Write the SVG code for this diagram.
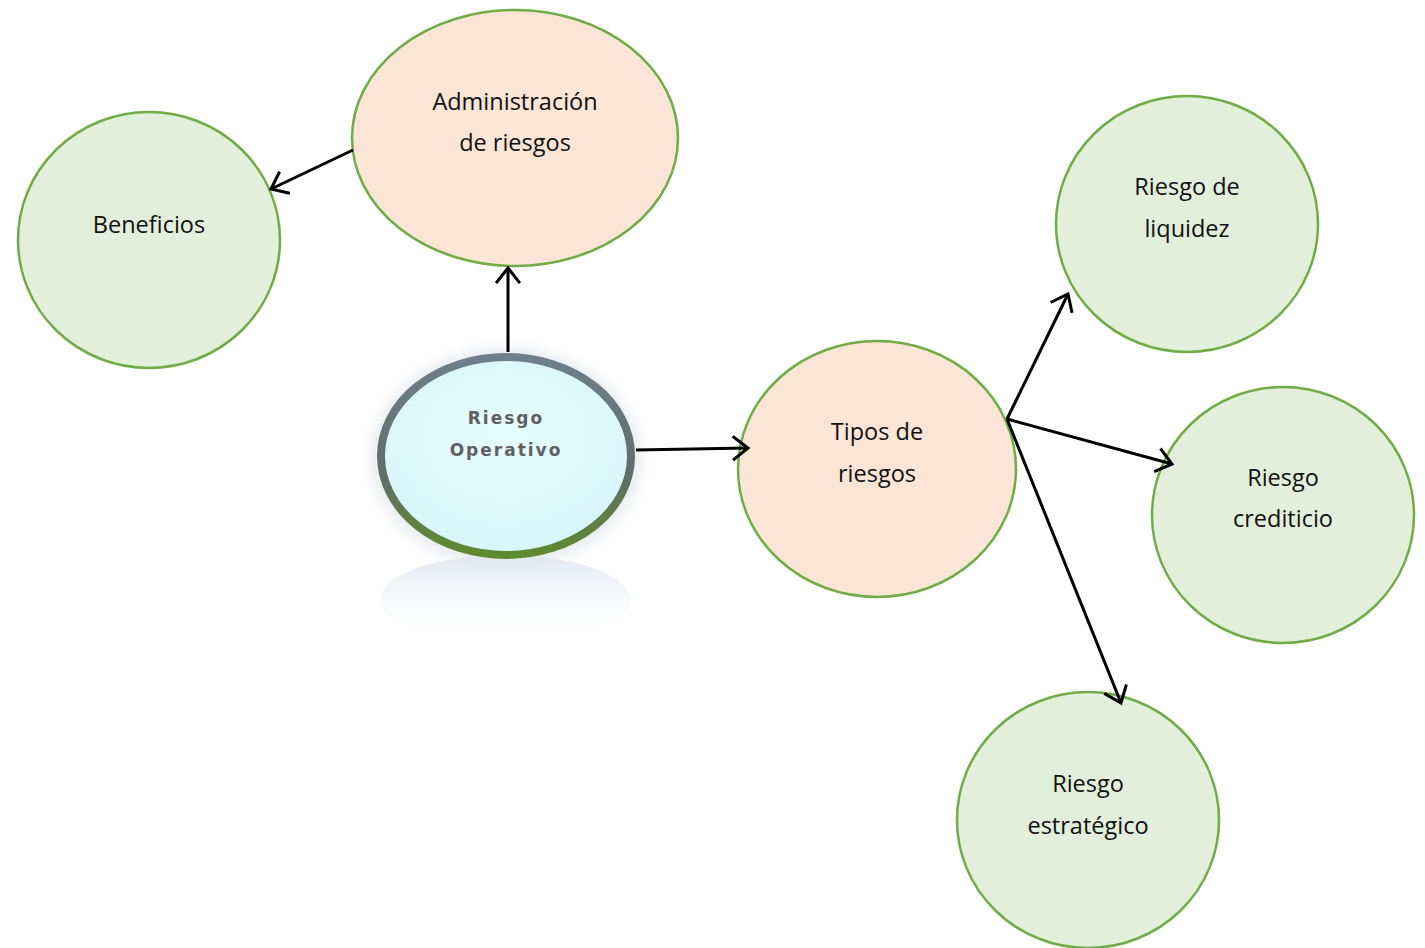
<svg xmlns="http://www.w3.org/2000/svg" width="1425" height="948" viewBox="0 0 1425 948">
<style>
.peach{fill:#FBE5D6;stroke:#70AD47;stroke-width:2.5}
.green{fill:#E2EFDA;stroke:#70AD47;stroke-width:2.5}
.t{font-family:"Open Sans",Lato,sans-serif;font-size:23.5px;fill:#111;text-anchor:middle}
.op{font-family:"DejaVu Sans",sans-serif;font-size:17px;font-weight:bold;fill:#606060;text-anchor:middle;letter-spacing:2px}
.conn line{stroke:#000;stroke-width:3;fill:none;marker-end:url(#arr)}
</style>
<defs>
<marker id="arr" viewBox="0 0 20 26" refX="18" refY="13" markerWidth="20" markerHeight="26" markerUnits="userSpaceOnUse" orient="auto" overflow="visible">
<path d="M4,2 L18,13 L4,24" fill="none" stroke="#000" stroke-width="3" stroke-linecap="square" stroke-linejoin="miter"/>
</marker>
<radialGradient id="inner" cx="0.5" cy="0.4" r="0.6">
<stop offset="0" stop-color="#E8FDFF"/>
<stop offset="1" stop-color="#D6F6FA"/>
</radialGradient>
<linearGradient id="rim" x1="0" y1="0" x2="0" y2="1">
<stop offset="0" stop-color="#6E7F8E"/>
<stop offset="0.6" stop-color="#5E6F66"/>
<stop offset="1" stop-color="#5F8A2E"/>
</linearGradient>
<linearGradient id="refl" x1="0" y1="0" x2="0" y2="1">
<stop offset="0" stop-color="#DDE6EE" stop-opacity="0.9"/>
<stop offset="1" stop-color="#FFFFFF" stop-opacity="0"/>
</linearGradient>
<filter id="glow" x="-20%" y="-20%" width="140%" height="140%">
<feGaussianBlur stdDeviation="8"/>
</filter>
</defs>
<g id="admin">
<ellipse class="peach" cx="515" cy="138" rx="163" ry="128"/>
<text class="t" x="515" y="110">Administración</text>
<text class="t" x="515" y="151">de riesgos</text>
</g>
<g id="beneficios">
<ellipse class="green" cx="149" cy="240" rx="131" ry="128"/>
<text class="t" x="149" y="233">Beneficios</text>
</g>
<g id="operativo">
<ellipse cx="505" cy="600" rx="125" ry="45" fill="url(#refl)"/>
<ellipse cx="506" cy="458" rx="134" ry="108" fill="#E6E8EC" filter="url(#glow)"/>
<ellipse cx="506" cy="456" rx="125" ry="99" fill="url(#inner)" stroke="url(#rim)" stroke-width="8"/>
<text class="op" x="506" y="424">Riesgo</text>
<text class="op" x="506" y="456">Operativo</text>
</g>
<g id="tipos">
<ellipse class="peach" cx="877" cy="469" rx="139" ry="128"/>
<text class="t" x="877" y="440">Tipos de</text>
<text class="t" x="877" y="482">riesgos</text>
</g>
<g id="liquidez">
<ellipse class="green" cx="1187" cy="224" rx="131" ry="128"/>
<text class="t" x="1187" y="195">Riesgo de</text>
<text class="t" x="1187" y="237">liquidez</text>
</g>
<g id="crediticio">
<ellipse class="green" cx="1283" cy="515" rx="131" ry="128"/>
<text class="t" x="1283" y="486">Riesgo</text>
<text class="t" x="1283" y="527">crediticio</text>
</g>
<g id="estrategico">
<ellipse class="green" cx="1088" cy="820" rx="131" ry="128"/>
<text class="t" x="1088" y="792">Riesgo</text>
<text class="t" x="1088" y="834">estratégico</text>
</g>
<g class="conn">
<line x1="353" y1="150" x2="271" y2="189"/>
<line x1="508" y1="352" x2="508" y2="268"/>
<line x1="636" y1="450" x2="748" y2="448"/>
<line x1="1007" y1="419" x2="1068" y2="294"/>
<line x1="1007" y1="419" x2="1172" y2="464"/>
<line x1="1007" y1="419" x2="1121" y2="703"/>
</g>
</svg>
